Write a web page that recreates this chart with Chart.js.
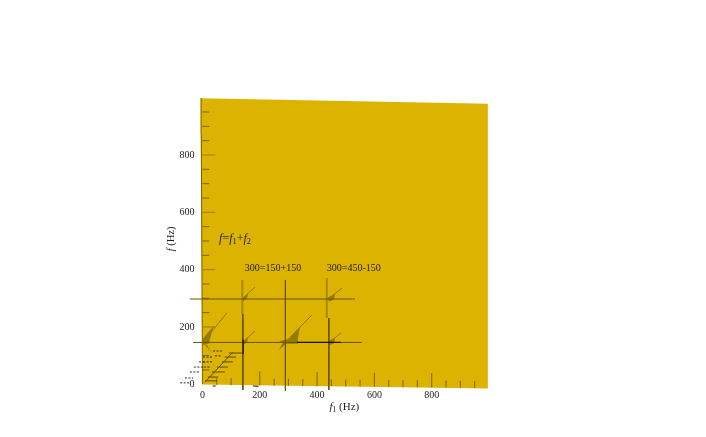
<!DOCTYPE html>
<html>
<head>
<meta charset="utf-8">
<style>html,body{margin:0;padding:0;background:#fff}canvas{display:block}</style>
<script src="https://cdn.jsdelivr.net/npm/chart.js@4"></script>
</head>
<body>
<canvas id="c" width="706" height="437"></canvas>
<script>
const xTickLabels = [0,200,400,600,800];
const yTickLabels = [0,200,400,600,800];

const sheet = [[-7,998],[996,979],[996,-15],[0,-1]];

// spectral streaks [f1, f] outlines (wide bases)
const streakA = [[40,205],[2,160],[2,137],[22,142],[30,172]];
const streakATail = [[2,146],[33,109],[16,136]];
const streakB = [[160,165],[141,150],[141,137],[155,145]];
const streakC = [[160,318],[141,303],[141,290],[155,298]];
const streakD = [[463,316],[438,303],[441,288],[459,296]];
const streakE = [[463,162],[438,150],[441,135],[459,143]];
const streakF = [[340,198],[300,158],[267,150],[284,141],[330,141],[333,158]];
const streakFTail = [[298,148],[267,120],[280,144]];
// thin tips of the streaks [x0,y0,x1,y1]
const streakTips = [
  [85,249,5,150],[183,186,141,146],[183,339,141,300],
  [487,336,441,298],[483,179,441,144],[382,242,295,152]
];

// reference lines [x0,y0,x1,y1]
const guideLines = [
  [-44,297.5,532,297.5],[-33,146,556,146],
  [141,245,141,-20],[289.5,364,289.5,-23],[441,231,441,-20]
];
const guideLinesPale = [[139,364,139,245],[434,371,434,231]];
const guideLinesBlack = [[330,146,483,146],[142,155,142,106],[36,-6,46,-6],[176,-6,196,-7]];

// small mesh near the origin
const meshLines = [
  [8,7,106,112],[92,109,141,109],[78,95,117,95],[68,78,106,78],
  [51,60,89,60],[33,43,78,43],[19,25,54,25],[9,12,51,12]
];
const meshDashes = [
  [-78,5,-44,5],[-61,22,-33,22],[-44,43,-9,43],[-30,60,2,60],[5,60,30,60],
  [-12,78,12,78],[2,78,37,78],[2,95,37,95],[44,99,65,99],[37,116,72,116]
];

const axisEdge = [[-4,998,-4,870]];
const axisEdgeDark = [[-4,870,0,0]];

// ticks on the sheet: position, base, top
const xMinorTicks = [50,100,250,300,350,450,500,550,650,700,750,850,900,950];
const xMinorBase  = [-2,-3,-5,-5,-6,-7,-8,-8,-9,-10,-10,-11,-12,-13];
const xMinorTop   = [22,21,19,19,18,17,16,16,15,14,14,13,12,11];
const xMajorTicks = [200,400,600,800];
const xMajorBase  = [-4,-7,-9,-11];
const xMajorTop   = [45,43,41,39];
const yMinorTicks = [50,100,150,250,300,350,450,500,550,650,700,750,850,900,950];
const yMajorTicks = [200,400,600,800];

const C = {
  sheet:'#dbb300', streak:'#947a00', line:'#665400', pale:'#a88a00',
  black:'#1a1500', tick:'#7a6500', major:'#9a7e00', mesh:'#5c4c00', dash:'#2a2a20', edge:'#a08500', edgeDark:'#7a6500'
};
const FONT = '"Liberation Serif", serif';

function segs(list){
  const out=[];
  list.forEach(s=>{out.push({x:s[0],y:s[1]},{x:s[2],y:s[3]},{x:NaN,y:NaN});});
  return out;
}
function lineSet(list,color,width,dash){
  return {data:segs(list),showLine:true,borderColor:color,borderWidth:width,borderDash:dash||[],
    pointRadius:0,clip:false,fill:false,spanGaps:false,borderCapStyle:'butt'};
}
function polySet(pts,color){
  return {data:pts.map(p=>({x:p[0],y:p[1]})),showLine:true,borderWidth:0,borderColor:color,
    backgroundColor:color,fill:'shape',pointRadius:0,clip:false,tension:0};
}

const xMinorSegs = xMinorTicks.map((v,i)=>[v,xMinorBase[i],v,xMinorTop[i]]);
const xMajorSegs = xMajorTicks.map((v,i)=>[v,xMajorBase[i],v,xMajorTop[i]]);
const yMinorSegs = yMinorTicks.map(v=>[0,v,24,v]);
const yMajorSegs = yMajorTicks.map(v=>[0,v,45,v]);

// Draw order: first listed is on top, so the sheet goes last.
const datasets = [
  lineSet(guideLinesBlack,C.black,1.2),
  lineSet(guideLines,C.line,1),
  lineSet(guideLinesPale,C.pale,2),
  lineSet(meshLines,C.mesh,1),
  lineSet(meshDashes,C.dash,1,[2,1.5]),
  lineSet(streakTips,C.streak,1),
  polySet(streakA,C.streak),polySet(streakATail,C.streak),
  polySet(streakB,C.streak),polySet(streakC,C.streak),
  polySet(streakD,C.streak),polySet(streakE,C.streak),
  polySet(streakF,C.streak),polySet(streakFTail,C.streak),
  lineSet(xMinorSegs,C.tick,1),lineSet(xMajorSegs,C.tick,1),
  lineSet(yMinorSegs,C.tick,1),lineSet(yMajorSegs,C.major,1),
  lineSet(axisEdge,C.edge,1),lineSet(axisEdgeDark,C.edgeDark,1),
  polySet(sheet,C.sheet)
];

// Mixed-style labels: runs of [text, italic, subscript]; size is the main font size
const richLabels = [
  {x:58,y:507,size:12,runs:[['f',1],['=',0],['f',1],['1',0,1],['+',0],['f',1],['2',0,1]]},
  {x:148,y:405,size:10,runs:[['300=150+150',0]]},
  {x:434,y:405,size:10,runs:[['300=450-150',0]]},
  {x:443,y:-80,size:11,runs:[['f',1],['1',0,1],[' (Hz)',0]]},
  {x:-109,y:507,size:10.5,rot:true,runs:[['f',1],[' (Hz)',0]]}
];
const richPlugin = {
  id:'rich',
  afterDatasetsDraw(chart){
    const ctx=chart.ctx, sx=chart.scales.x, sy=chart.scales.y;
    richLabels.forEach(l=>{
      ctx.save();
      ctx.fillStyle='#222';
      ctx.textBaseline='middle';
      ctx.textAlign='left';
      const px=sx.getPixelForValue(l.x), py=sy.getPixelForValue(l.y);
      ctx.translate(px,py);
      let w=0;
      const font=r=>(r[1]?'italic ':'')+(r[2]?l.size*0.7:l.size)+'px '+FONT;
      l.runs.forEach(r=>{ctx.font=font(r);w+=ctx.measureText(r[0]).width;});
      if(l.rot){ctx.rotate(-Math.PI/2);ctx.translate(-w/2,0);}
      let cx=0;
      l.runs.forEach(r=>{
        ctx.font=font(r);
        ctx.fillText(r[0],cx,r[2]?3:0);
        cx+=ctx.measureText(r[0]).width;
      });
      ctx.restore();
    });
  }
};

new Chart(document.getElementById('c'),{
  type:'scatter',
  data:{datasets},
  plugins:[richPlugin],
  options:{
    responsive:false,animation:false,devicePixelRatio:1,
    layout:{padding:{top:97.7,right:217,left:0,bottom:0}},
    plugins:{legend:{display:false},tooltip:{enabled:false},title:{display:false}},
    scales:{
      x:{type:'linear',min:-10,max:1000,
        grid:{display:false,drawTicks:false},border:{display:false},
        afterBuildTicks:s=>{s.ticks=xTickLabels.map(v=>({value:v}));},
        afterFit:s=>{s.height=47;},
        ticks:{autoSkip:false,maxRotation:0,padding:-1,color:'#222',font:{family:FONT,size:10},callback:v=>String(v)}},
      y:{type:'linear',min:-20,max:1000,
        grid:{display:false,drawTicks:false},border:{display:false},
        afterBuildTicks:s=>{s.ticks=yTickLabels.map(v=>({value:v}));},
        afterFit:s=>{s.width=199.6;},
        ticks:{autoSkip:false,padding:5,color:'#222',font:{family:FONT,size:10},callback:v=>String(v)}}
    }
  }
});
</script>
</body>
</html>
